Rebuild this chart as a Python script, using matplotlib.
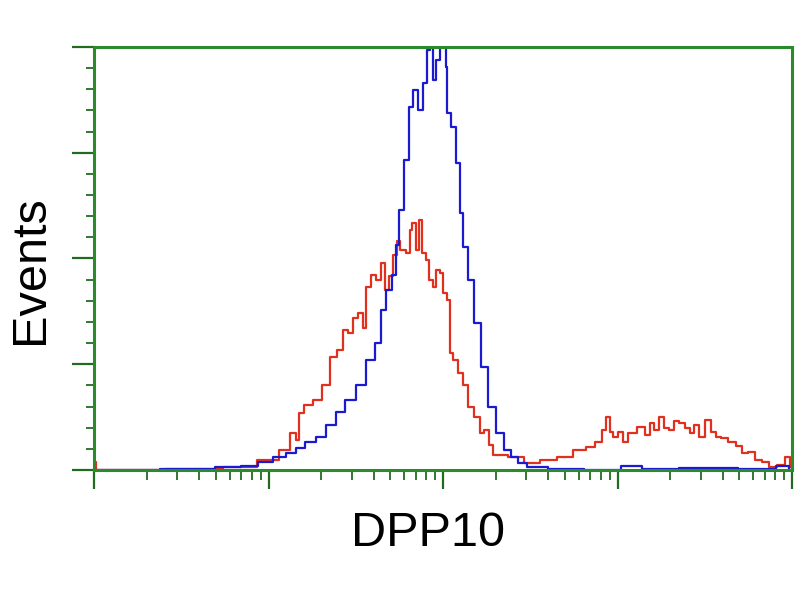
import matplotlib
matplotlib.use("Agg")
import matplotlib.pyplot as plt
from matplotlib.ticker import LogLocator, MultipleLocator, NullFormatter
import numpy as np

# log10 of fluorescence intensity and event counts
blue_log = [0.00, 0.58, 0.78, 0.90, 0.98, 1.07, 1.13, 1.18, 1.24, 1.30, 1.36, 1.41,
            1.47, 1.53, 1.59, 1.63, 1.66, 1.69, 1.72, 1.74, 1.76, 1.79, 1.82, 1.84,
            1.87, 1.90, 1.92, 1.93, 1.95, 1.97, 1.99, 2.01, 2.02, 2.03, 2.06, 2.09,
            2.10, 2.13, 2.16, 2.20, 2.24, 2.28, 2.33, 2.37, 2.41, 2.45, 2.51, 2.68,
            2.91, 3.11, 3.17, 3.48, 3.83, 3.97, 4.00]
blue_counts = [0, 1, 3, 4, 8, 12, 16, 21, 26, 31, 43, 55,
               66, 80, 104, 120, 151, 170, 184, 213, 246, 293, 343, 359,
               340, 366, 397, 416, 369, 388, 411, 402, 381, 338, 324, 290,
               243, 211, 180, 139, 97, 60, 35, 19, 12, 7, 3, 1,
               0, 4, 1, 2, 1, 4, 0]

red_log = [0.00, 0.02, 0.61, 0.84, 1.01, 1.10, 1.14, 1.17, 1.18, 1.23, 1.28, 1.33,
           1.37, 1.41, 1.44, 1.47, 1.50, 1.53, 1.55, 1.57, 1.60, 1.63, 1.66, 1.68,
           1.70, 1.73, 1.74, 1.77, 1.80, 1.82, 1.83, 1.86, 1.87, 1.89, 1.91, 1.93,
           1.95, 1.97, 1.99, 2.01, 2.03, 2.05, 2.07, 2.10, 2.13, 2.16, 2.20, 2.22,
           2.25, 2.28, 2.29, 2.33, 2.41, 2.51, 2.60, 2.70, 2.79, 2.85, 2.89, 2.93,
           2.94, 2.97, 2.98, 3.02, 3.04, 3.08, 3.14, 3.17, 3.20, 3.22, 3.25, 3.28,
           3.31, 3.34, 3.37, 3.40, 3.43, 3.45, 3.48, 3.52, 3.55, 3.58, 3.61, 3.66,
           3.70, 3.73, 3.77, 3.81, 3.84, 3.89, 3.94, 3.98, 4.00]
red_counts = [8, 0, 1, 3, 9, 19, 35, 28, 54, 61, 66, 80,
              107, 113, 132, 130, 144, 148, 134, 173, 184, 180, 196, 170,
              183, 203, 217, 208, 205, 227, 234, 208, 236, 205, 199, 180,
              173, 189, 186, 167, 161, 111, 104, 92, 80, 60, 50, 35,
              38, 24, 14, 14, 12, 7, 9, 12, 19, 22, 26, 38,
              50, 36, 31, 36, 26, 35, 41, 33, 44, 38, 50, 40,
              38, 46, 44, 40, 35, 43, 31, 47, 36, 31, 30, 26,
              23, 16, 17, 9, 8, 3, 5, 12, 3]

green = "#2b8a2b"
tick_green = "#236b23"

fig = plt.figure(figsize=(8, 6), dpi=100)
ax = fig.add_axes([0.1175, 0.2167, 0.8725, 0.705])

ax.plot(10 ** np.array(red_log), red_counts, color="#e0301e", lw=1.6, drawstyle="steps-mid")
ax.plot(10 ** np.array(blue_log), blue_counts, color="#1a1ad0", lw=1.6, drawstyle="steps-mid")

ax.set_xscale("log")
ax.set_xlim(1, 1e4)
ax.set_ylim(0, 400)

ax.xaxis.set_major_locator(LogLocator(base=10, numticks=10))
ax.xaxis.set_minor_locator(LogLocator(base=10, subs=np.arange(2, 10), numticks=40))
ax.xaxis.set_major_formatter(NullFormatter())
ax.xaxis.set_minor_formatter(NullFormatter())
ax.yaxis.set_major_locator(MultipleLocator(100))
ax.yaxis.set_minor_locator(MultipleLocator(20))
ax.yaxis.set_major_formatter(NullFormatter())

ax.tick_params(axis="x", which="major", direction="out", length=14, width=1.6, color=tick_green)
ax.tick_params(axis="x", which="minor", direction="out", length=7, width=1.3, color=tick_green)
ax.tick_params(axis="y", which="major", direction="out", length=16, width=1.6, color=tick_green)
ax.tick_params(axis="y", which="minor", direction="out", length=6, width=1.3, color=tick_green)

for side in ax.spines.values():
    side.set_color(green)
    side.set_linewidth(2.2)

fig.text(0.535, 0.11, "DPP10", fontsize=35, family=["Liberation Sans", "DejaVu Sans"],
         ha="center", va="center")
fig.text(0.038, 0.55, "Events", fontsize=35, family=["Liberation Sans", "DejaVu Sans"],
         ha="center", va="center", rotation=90)

fig.savefig("out.png", dpi=100)
